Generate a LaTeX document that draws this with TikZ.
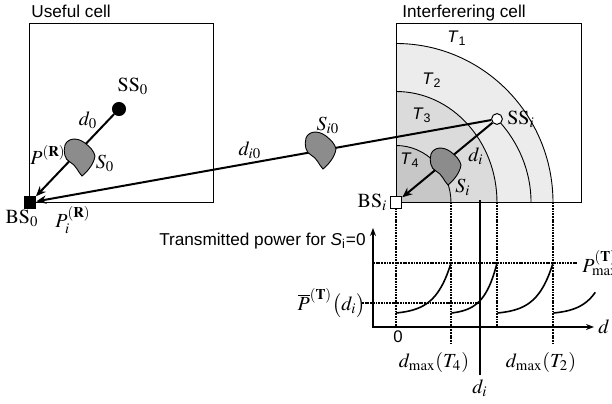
\documentclass[tikz,border=0pt]{standalone}
\usepackage{mathptmx}
\usepackage[no-math]{fontspec}
\setmainfont{Liberation Serif}
\setsansfont{Liberation Sans}
\usepackage{xcolor}
\usetikzlibrary{arrows.meta,positioning}

\definecolor{zoneA}{gray}{0.925}
\definecolor{zoneB}{gray}{0.86}
\definecolor{zoneC}{gray}{0.78}
\definecolor{blobgray}{gray}{0.55}

\begin{document}
\begin{tikzpicture}[
  x=0.5pt, y=0.5pt,
  font=\fontsize{10}{12}\selectfont,
  cell/.style={draw, line width=0.5pt},
  celltitle/.style={anchor=base west, inner sep=0pt, font=\fontsize{8.6}{10}\selectfont\sffamily},
  tier/.style={inner sep=0pt, font=\fontsize{8.4}{10}\selectfont\sffamily},
  lbl/.style={inner sep=0pt},
  bsnode/.style={rectangle, draw, line width=0.5pt, minimum size=5.8pt, inner sep=0pt},
  ssnode/.style={circle, draw, line width=0.5pt, inner sep=0pt},
  link/.style={-{Stealth[length=5pt,width=4.2pt]}, line width=1pt},
  ring/.style={line width=0.45pt},
  guide/.style={line width=0.9pt, dash pattern=on 0.9pt off 0.45pt},
  graphaxis/.style={{Stealth[length=4pt,width=3pt]}-{Stealth[length=4pt,width=3pt]}, line width=0.75pt},
  powercurve/.style={line width=0.8pt},
  blob/.pic={\filldraw[fill=blobgray, line width=0.45pt]
    (-15,12) .. controls (-12,19) and (-3,20) .. (5,14)
    .. controls (10,10) and (14,6) .. (15,1)
    .. controls (14,-7) and (7,-15) .. (2,-19)
    .. controls (-2,-15) and (-4,-8) .. (-10,-5)
    .. controls (-15,-3) and (-17,5) .. cycle;}
]
  \useasboundingbox (0,0) rectangle (612,403);
  \coordinate (bsipos) at (396,200.5);
  \coordinate (ssipos) at (497,284);

  % Power tiers of the interfering cell
  \fill[zoneA] (bsipos) -- ++(157,0) arc[start angle=0, end angle=90, x radius=157, y radius=159] -- cycle;
  \fill[zoneB] (bsipos) -- ++(101,0) arc[start angle=0, end angle=90, x radius=101, y radius=111] -- cycle;
  \fill[zoneC] (bsipos) -- ++(55,0) arc[start angle=0, end angle=90, x radius=55, y radius=57] -- cycle;
  \draw[ring] (bsipos) ++(157,0) arc[start angle=0, end angle=90, x radius=157, y radius=159];
  \draw[ring] (bsipos) ++(101,0) arc[start angle=0, end angle=90, x radius=101, y radius=111];
  \draw[ring] (bsipos) ++(55,0) arc[start angle=0, end angle=90, x radius=55, y radius=57];
  \draw[ring] (ssipos) arc[start angle=41.6, end angle=0, x radius=135, y radius=125.8];

  % Cells
  \draw[cell] (29,200.5) rectangle (213,380);
  \draw[cell] (396,200.5) rectangle (581,380);
  \node[celltitle] (ttlu) at (31,386) {Useful cell};
  \node[celltitle] (ttli) at (402,386) {Interferering cell};

  \node[tier] (t1) at (457,365) {\textit{T}\textsubscript{1}};
  \node[tier] (t2) at (432,323) {\textit{T}\textsubscript{2}};
  \node[tier] (t3) at (422,288) {\textit{T}\textsubscript{3}};
  \node[tier] (t4) at (410,243) {\textit{T}\textsubscript{4}};

  % Transmitted power graph
  \draw[guide] (bsipos) -- (396,76);
  \draw[guide] (451,200.5) -- (451,60);
  \draw[guide] (497,200.5) -- (497,76);
  \draw[guide] (553,200.5) -- (553,60);
  \draw[line width=0.6pt] (480,203) -- (480,28);
  \draw[guide] (373,140) -- (577,140);
  \draw[guide] (362,100) -- (480,100);
  \draw[graphaxis] (373,175) -- (373,76) -- (594,76);
  \foreach \start/\len/\upto in {396/55/1, 451.5/45.5/1, 497.5/55.5/1, 553.5/55/0.76}
    \draw[powercurve] plot[domain=0:\upto, samples=40, smooth]
      ({\start+\len*\x}, {90+50*(exp(3.5*\x)-1)/32.115});

  \node[celltitle, anchor=base east] (tpow) at (366,158) {Transmitted power for \textit{S}\textsubscript{i}=0};
  \node[tier] (zero) at (398,66) {0};
  \node[lbl] (dmax4) at (434,41) {$d_{\max}(T_4)$};
  \node[lbl] (dmax2) at (541,41) {$d_{\max}(T_2)$};
  \node[lbl] (dilow) at (480,15) {$d_i$};
  \node[lbl] (dlab) at (604,76) {$d$};
  \node[lbl, anchor=west] (pmax) at (582,140) {$P^{(\mathbf{T})}_{\max}$};
  \node[lbl, anchor=east] (pbar) at (366,100) {$\overline{P}^{(\mathbf{T})}\bigl(d_i\bigr)$};

  % Stations
  \node[bsnode, fill=black] (bs0) at (30,200.5) {};
  \node[ssnode, fill=black, minimum size=6.5pt] (ss0) at (119,294) {};
  \node[ssnode, fill=white, minimum size=5.4pt] (ssi) at (ssipos) {};
  \node[bsnode, fill=white] (bsi) at (bsipos) {};

  % Links and shadowing
  \draw[link] (ss0) -- (bs0);
  \draw[link] (ssi) -- (bs0);
  \draw[link] (ssi) -- (bsi);
  \pic at (80,246) {blob};
  \pic at (321,253) {blob};
  \pic at (446,237) {blob};

  % Labels
  \node[lbl] (ss0lab) at (133,317) {$\mathrm{SS}_0$};
  \node[lbl] (d0lab) at (88,283) {$d_0$};
  \node[lbl] (prlab) at (48,248) {$P^{(\mathbf{R})}$};
  \node[lbl] (s0lab) at (105,240) {$S_0$};
  \node[lbl] (bs0lab) at (22,185) {$\mathrm{BS}_0$};
  \node[lbl] (pirlab) at (73,183) {$P_i^{(\mathbf{R})}$};
  \node[lbl] (si0lab) at (328,278) {$S_{i0}$};
  \node[lbl] (di0lab) at (250,253) {$d_{i0}$};
  \node[lbl, right=2pt of ssi] (ssilab) {$\mathrm{SS}_i$};
  \node[lbl] (dilab) at (476,247) {$d_i$};
  \node[lbl] (silab) at (463,216) {$S_i$};
  \node[lbl, left=1pt of bsi] (bsilab) {$\mathrm{BS}_i$};
\end{tikzpicture}
\end{document}
